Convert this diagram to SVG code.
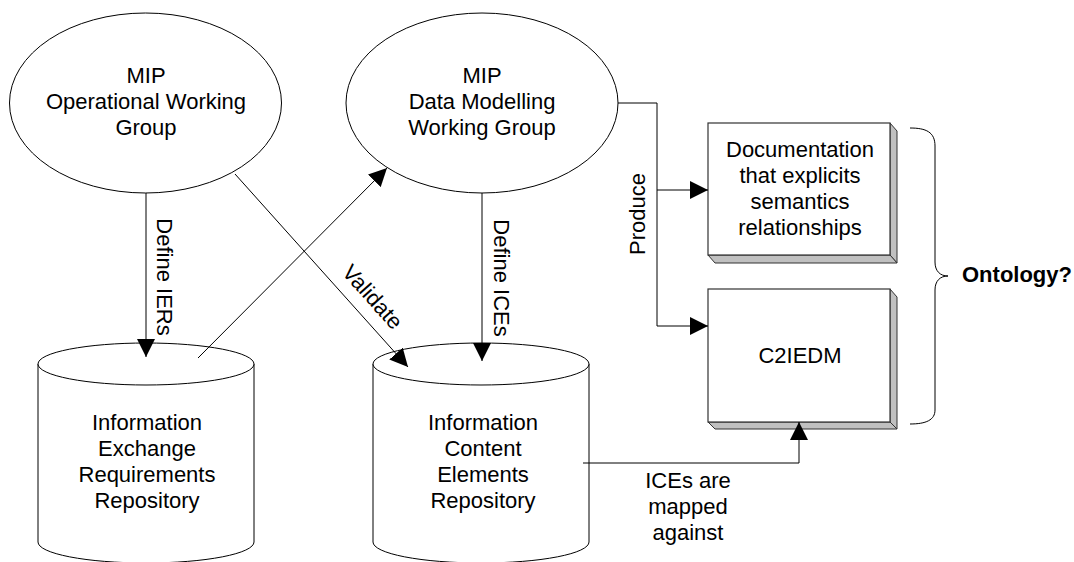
<svg xmlns="http://www.w3.org/2000/svg" width="1074" height="562" viewBox="0 0 1074 562">
<defs>
<marker id="arr" markerUnits="userSpaceOnUse" markerWidth="18" markerHeight="18" refX="18" refY="9" orient="auto">
<path d="M0,0 L18,9 L0,18 z" fill="#000"/>
</marker>
<style>
text{font-family:"Liberation Sans",Arial,sans-serif;font-size:22px;fill:#000}
.c{text-anchor:middle}
.shape{fill:#fff;stroke:#000;stroke-width:1}
.bev{fill:#c0c0c0;stroke:#333;stroke-width:1}
.front{fill:#fff;stroke:#333;stroke-width:1.2}
.ln{fill:none;stroke:#000;stroke-width:1}
.b{font-weight:bold}
</style>
</defs>
<rect width="1074" height="562" fill="#fff"/>

<g id="owg">
<ellipse class="shape" cx="145.5" cy="103" rx="136" ry="90"/>
<text class="c" x="146" y="83">MIP</text>
<text class="c" x="146" y="109">Operational Working</text>
<text class="c" x="146" y="135">Group</text>
</g>

<g id="dmwg">
<ellipse class="shape" cx="482" cy="103" rx="136" ry="90"/>
<text class="c" x="482" y="83">MIP</text>
<text class="c" x="482" y="109">Data Modelling</text>
<text class="c" x="482" y="135">Working Group</text>
</g>

<g id="ierRepo">
<path class="shape" d="M38,364 L38,542 A108,21 0 0 0 254,542 L254,364"/>
<ellipse class="shape" cx="146" cy="364" rx="108" ry="21"/>
<text class="c" x="147" y="430">Information</text>
<text class="c" x="147" y="456">Exchange</text>
<text class="c" x="147" y="482">Requirements</text>
<text class="c" x="147" y="508">Repository</text>
</g>

<g id="iceRepo">
<path class="shape" d="M373,364 L373,542 A108,21 0 0 0 589,542 L589,364"/>
<ellipse class="shape" cx="481" cy="364" rx="108" ry="21"/>
<text class="c" x="483" y="430">Information</text>
<text class="c" x="483" y="456">Content</text>
<text class="c" x="483" y="482">Elements</text>
<text class="c" x="483" y="508">Repository</text>
</g>

<g id="docBox">
<polygon class="bev" points="890,123 897,131 897,263 890,255"/>
<polygon class="bev" points="708,255 890,255 897,263 715,263"/>
<rect class="front" x="708" y="123" width="182" height="132"/>
<text class="c" x="800" y="157">Documentation</text>
<text class="c" x="800" y="183">that explicits</text>
<text class="c" x="800" y="209">semantics</text>
<text class="c" x="800" y="235">relationships</text>
</g>

<g id="c2iedm">
<polygon class="bev" points="890,289 897,297 897,429 890,422"/>
<polygon class="bev" points="708,422 890,422 897,429 715,429"/>
<rect class="front" x="708" y="289" width="182" height="133"/>
<text class="c" x="800" y="363">C2IEDM</text>
</g>

<g id="ontology">
<path class="ln" d="M910,128 C926,128 935,132 935,146 L935,262 C935,271 940,276 948,276 C940,276 935,281 935,290 L935,410 C935,420 926,424 910,424"/>
<text class="b" x="962" y="282">Ontology?</text>
</g>

<g id="connectors">
<line class="ln" x1="146" y1="193" x2="146" y2="357" marker-end="url(#arr)"/>
<text transform="translate(157,277) rotate(90)" class="c">Define IERs</text>
<line class="ln" x1="482" y1="193" x2="482" y2="361" marker-end="url(#arr)"/>
<text transform="translate(494,278) rotate(90)" class="c">Define ICEs</text>
<line class="ln" x1="198" y1="358" x2="387" y2="168" marker-end="url(#arr)"/>
<line class="ln" x1="235" y1="174" x2="408" y2="367" marker-end="url(#arr)"/>
<text transform="translate(367,302) rotate(48.1)" class="c">Validate</text>
<polyline class="ln" points="618,103 657,103 657,326 708,326" marker-end="url(#arr)"/>
<line class="ln" x1="657" y1="190" x2="708" y2="190" marker-end="url(#arr)"/>
<text transform="translate(645,214) rotate(-90)" class="c">Produce</text>
<polyline class="ln" points="583,463 799,463 799,422" marker-end="url(#arr)"/>
<text class="c" x="688" y="488">ICEs are</text>
<text class="c" x="688" y="514">mapped</text>
<text class="c" x="688" y="540">against</text>
</g>
</svg>
